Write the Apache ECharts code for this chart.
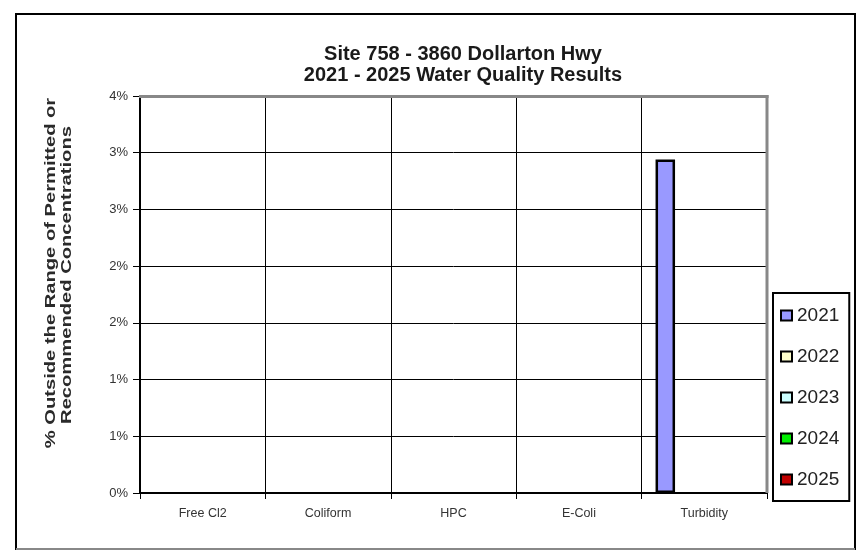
<!DOCTYPE html>
<html>
<head>
<meta charset="utf-8">
<script src="https://cdn.jsdelivr.net/npm/echarts@6/dist/echarts.min.js"></script>
<style>
html,body{margin:0;padding:0;background:#fff;}
#chart{width:861px;height:551px;}
</style>
</head>
<body>
<div id="chart"></div>
<script>
var categories = ['Free Cl2', 'Coliform', 'HPC', 'E-Coli', 'Turbidity'];
var years = ['2021', '2022', '2023', '2024', '2025'];
var values2021 = [0, 0, 0, 0, 2.94];
var values2022 = [0, 0, 0, 0, 0];
var values2023 = [0, 0, 0, 0, 0];
var values2024 = [0, 0, 0, 0, 0];
var values2025 = [0, 0, 0, 0, 0];
var yTickLabels = ['0%', '1%', '1%', '2%', '2%', '3%', '3%', '4%'];
var seriesColors = ['#9999FF', '#FFFFCC', '#CCFFFF', '#00EE00', '#C00000'];
var titleLines = ['Site 758 - 3860 Dollarton Hwy', '2021 - 2025 Water Quality Results'];
var yTitleLines = ['% Outside the Range of Permitted or', 'Recommended Concentrations'];

var allValues = [values2021, values2022, values2023, values2024, values2025];
var FONT = '"Liberation Sans", Arial, sans-serif';

var chart = echarts.init(document.getElementById('chart'), null, {renderer: 'canvas'});

var series = years.map(function (y, i) {
  return {
    name: y,
    type: 'bar',
    data: allValues[i].map(function (v) {
      // Excel draws nothing for zero-height bars
      return v === 0 ? {value: v, itemStyle: {borderWidth: 0}} : v;
    }),
    barGap: '0%',
    barWidth: 19.5,
    itemStyle: {color: seriesColors[i], borderColor: '#000', borderWidth: 2.5},
    emphasis: {disabled: true},
    animation: false
  };
});

var option = {
  animation: false,
  backgroundColor: '#fff',
  title: {
    text: titleLines.join('\n'),
    left: 458,
    textAlign: 'center',
    top: 39,
    textStyle: {fontFamily: FONT, fontSize: 20, fontWeight: 'bold', color: '#1a1a1a', lineHeight: 21}
  },
  grid: {left: 140, top: 96, right: 94, bottom: 58},
  legend: {
    orient: 'vertical',
    left: 773,
    top: 293,
    itemWidth: 11,
    itemHeight: 10,
    itemGap: 22,
    padding: [13, 10, 12, 7],
    borderColor: '#000',
    borderWidth: 2,
    backgroundColor: '#fff',
    icon: 'rect',
    itemStyle: {borderColor: '#000', borderWidth: 2},
    textStyle: {fontFamily: FONT, fontSize: 19, color: '#222', lineHeight: 18},
    data: years,
    selectedMode: false
  },
  xAxis: {
    type: 'category',
    data: categories,
    boundaryGap: true,
    axisLine: {lineStyle: {color: '#000', width: 2}},
    axisTick: {show: true, length: 6, lineStyle: {color: '#000', width: 1}},
    axisLabel: {fontFamily: FONT, fontSize: 12.5, color: '#333', margin: 14},
    splitLine: {show: true, lineStyle: {color: '#000', width: 1}}
  },
  yAxis: {
    type: 'value',
    min: 0,
    max: 3.5,
    interval: 0.5,
    axisLine: {show: true, lineStyle: {color: '#000', width: 2}},
    axisTick: {show: true, length: 7, lineStyle: {color: '#000', width: 1}},
    axisLabel: {
      fontFamily: FONT, fontSize: 13, color: '#333', margin: 12,
      formatter: function (v) { return yTickLabels[Math.round(v / 0.5)]; }
    },
    splitLine: {show: true, lineStyle: {color: '#000', width: 1}}
  },
  series: series,
  graphic: [
    {
      type: 'rect', z: 100, silent: true,
      shape: {x: 16, y: 14, width: 839, height: 535},
      style: {fill: 'none', stroke: '#000', lineWidth: 2}
    },
    {
      type: 'line', z: 101, silent: true,
      shape: {x1: 16, y1: 549, x2: 855, y2: 549},
      style: {stroke: '#888', lineWidth: 2}
    },
    {
      type: 'line', z: 100, silent: true,
      shape: {x1: 139, y1: 96.5, x2: 768.5, y2: 96.5},
      style: {stroke: '#888', lineWidth: 3}
    },
    {
      type: 'line', z: 100, silent: true,
      shape: {x1: 767, y1: 95, x2: 767, y2: 493},
      style: {stroke: '#888', lineWidth: 3}
    },
    {
      type: 'text', z: 100, silent: true,
      x: 51, y: 273, rotation: Math.PI / 2, scaleX: 1.3, scaleY: 1,
      style: {text: yTitleLines[0], font: 'bold 15.5px ' + FONT, fill: '#2a2a2a', align: 'center', verticalAlign: 'middle'}
    },
    {
      type: 'text', z: 100, silent: true,
      x: 67, y: 275, rotation: Math.PI / 2, scaleX: 1.3, scaleY: 1,
      style: {text: yTitleLines[1], font: 'bold 15.5px ' + FONT, fill: '#2a2a2a', align: 'center', verticalAlign: 'middle'}
    }
  ]
};

chart.setOption(option);
</script>
</body>
</html>
